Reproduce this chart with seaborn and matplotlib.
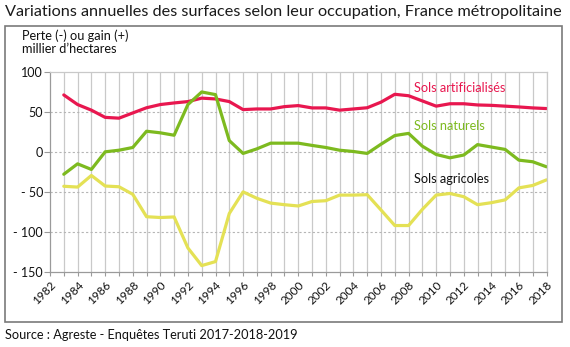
import matplotlib
matplotlib.use("Agg")
import matplotlib.pyplot as plt
import matplotlib.patches as patches
import seaborn as sns
import pandas as pd
import numpy as np

years = list(range(1983, 2019))
artificialises = [71, 59, 52, 43, 42, 48.5, 55, 59, 61, 62.7, 67, 66, 62.7,
                  52.7, 53.5, 53.5, 56.4, 57.7, 54.8, 54.8, 52, 53.5, 55, 62, 71.8,
                  70, 63.5, 57, 60, 60, 58.5, 58, 57, 56, 54.8, 54]
naturels = [-28, -15, -22, 0, 2, 5.4, 25.7, 23.7, 20.7, 59, 74.7, 71.4, 14,
            -2, 3.7, 10.8, 10.8, 10.8, 8, 5.4, 2, 0.4, -2, 9.5, 20.3,
            23, 7, -3.3, -7.5, -4, 9, 6, 3, -10.4, -12.4, -18.7]
agricoles = [-43, -44, -29.5, -42.7, -43.6, -53, -81, -82, -81.3, -120, -142, -137, -77,
             -50, -58, -64, -66, -67.6, -62, -61, -54, -54, -53.5, -72.6, -92,
             -92, -71.8, -54, -52, -56, -66, -63.5, -60, -45, -42, -35]
series_names = ["Sols artificialisés", "Sols naturels", "Sols agricoles"]
yticks = [100, 50, 0, -50, -100, -150]
ytick_labels = ["100", "50", "0", "- 50", "- 100", "- 150"]
xticks = list(range(1982, 2019, 2))

title = "Variations annuelles des surfaces selon leur occupation, France métropolitaine"
ylabel = "Perte (-) ou gain (+)\nmillier d\u2019hectares"
source = "Source : Agreste - Enquêtes Teruti 2017-2018-2019"

df = pd.DataFrame({"annee": years * 3,
                   "valeur": artificialises + naturels + agricoles,
                   "type": sum([[n] * len(years) for n in series_names], [])})

colors = {"Sols artificialisés": "#e8174f", "Sols naturels": "#7dba1f", "Sols agricoles": "#e4e155"}
label_colors = ["#e8174f", "#7dba1f", "#111111"]

sns.set_style("white")
plt.rcParams['font.family'] = ['Lato', 'DejaVu Sans']

W, H = 570, 347
fig = plt.figure(figsize=(W / 100, H / 100), dpi=100)
ax = fig.add_axes([50 / W, 1 - 272 / H, (546.5 - 50) / W, (272 - 71.7) / H])

sns.lineplot(data=df, x="annee", y="valeur", hue="type", hue_order=series_names,
             palette=colors, linewidth=2.3, ax=ax, legend=False)

ax.set_xlim(1982, 2018)
ax.set_ylim(-150, 100)
ax.set_xticks(xticks)
ax.set_xticklabels([str(x) for x in xticks], rotation=45, ha="right",
                   rotation_mode="anchor", fontsize=8.5, color="#111111")
ax.set_xticks(range(1982, 2019), minor=True)
ax.set_yticks(yticks)
ax.set_yticklabels(ytick_labels, fontsize=9, color="#111111")
ax.set_xlabel("")
ax.set_ylabel("")

for x in range(1983, 2019):
    ax.axvline(x, color="#c9c9c9", lw=0.9, zorder=0)
for y in yticks[1:-1]:
    ax.axhline(y, color="#b5b5b5", lw=0.8, ls=(0, (2, 2)), zorder=0)

for s in ["top", "right"]:
    ax.spines[s].set_color("#c9c9c9")
    ax.spines[s].set_linewidth(0.9)
for s in ["left", "bottom"]:
    ax.spines[s].set_color("#9a9a9a")
    ax.spines[s].set_linewidth(0.9)

ax.tick_params(axis="y", which="major", left=True, length=4, width=0.8, color="#9a9a9a", pad=1)
ax.tick_params(axis="x", which="both", bottom=True, length=3, width=0.8, color="#9a9a9a", pad=2)

label_pos = [(2008.4, 80), (2008.4, 32), (2008.4, -34)]
for name, (lx, ly), c in zip(series_names, label_pos, label_colors):
    ax.text(lx, ly, name, color=c, fontsize=9.2, va="center", ha="left")

fig.text(22 / W, 1 - 42 / H, ylabel, fontsize=9.2, va="center", ha="left",
         linespacing=1.15, color="#111111")

t = fig.text(5 / W, 1 - 12 / H, title, fontsize=12.5, va="center", ha="left", color="#1a1a1a")
fig.canvas.draw()
bb = t.get_window_extent()
t.set_fontsize(12.5 * (558 / bb.width))

fig.text(5 / W, 1 - 335 / H, source, fontsize=9.2, va="center", ha="left", color="#111111")

rect = patches.Rectangle((5 / W, 1 - 322 / H), (562 - 5) / W, (322 - 26) / H,
                         transform=fig.transFigure, fill=False, edgecolor="#7a7a7a", lw=1.2)
fig.patches.append(rect)

fig.savefig("out.png", dpi=100)
